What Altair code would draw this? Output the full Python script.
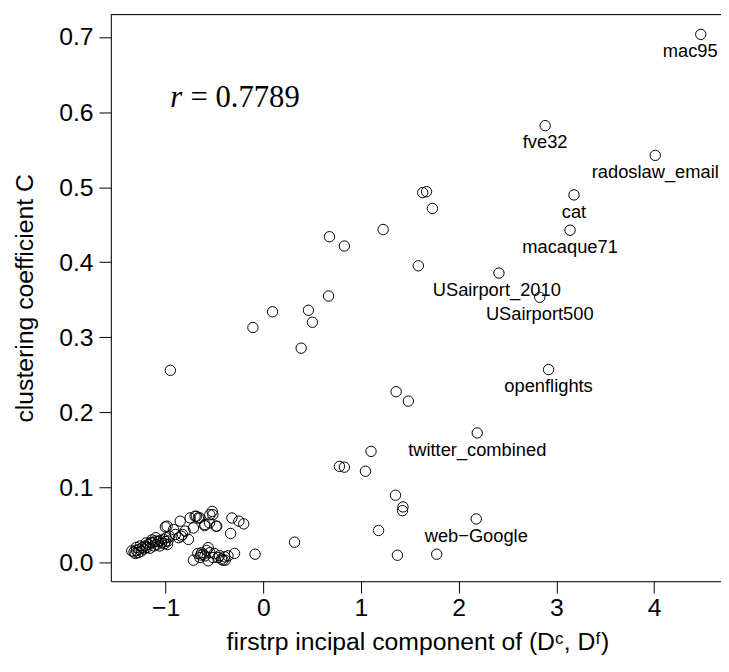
import altair as alt
import pandas as pd

# labelled networks
lab_names = ["mac95", "fve32", "radoslaw_email", "cat", "macaque71",
             "USairport_2010", "USairport500", "openflights", "twitter_combined", "web\u2212Google"]
lab_x = [4.478, 2.885, 4.012, 3.18, 3.14, 2.412, 2.83, 2.92, 2.19, 2.18]
lab_y = [0.7036, 0.582, 0.5424, 0.4897, 0.4427, 0.3856, 0.3533, 0.257, 0.1726, 0.058]
lab_text_x = [4.37, 2.885, 4.012, 3.18, 3.14, 2.39, 2.83, 2.92, 2.19, 2.18]

# other networks
mid_x = [1.632, 1.671, 1.731, 1.227, 0.678, 0.83, 1.587, 0.668, 0.462, 0.503, 0.388,
         -0.106, 0.095, -0.951, 1.36, 1.485, 1.103, 0.78, 0.83, 1.046, 1.353, 1.43,
         1.425, 1.18, 1.373, 1.775, 0.32, -0.084]
mid_y = [0.4928, 0.494, 0.4717, 0.4436, 0.434, 0.4216, 0.3953, 0.355, 0.336, 0.320, 0.2855,
         0.313, 0.334, 0.256, 0.2275, 0.215, 0.148, 0.128, 0.127, 0.1216, 0.0896, 0.074,
         0.069, 0.0426, 0.0096, 0.011, 0.027, 0.011]

low_x = [-0.715, -0.648, -0.631, -0.614, -0.597, -0.564, -0.547, -0.513, -0.564, -0.462,
         -0.428, -0.412, -0.395, -0.361, -0.294, -0.64, -0.39, -0.67, -0.58, -0.5, -0.45]
low_y = [0.003, 0.0066, 0.013, 0.011, 0.0088, 0.0198, 0.013, 0.0066, 0.0022, 0.0066,
         0.0044, 0.003, 0.0075, 0.0088, 0.012, 0.01, 0.003, 0.012, 0.016, 0.012, 0.009]

up_x = [-1.346, -1.323, -1.299, -1.272, -1.238, -1.204, -1.177, -1.154, -1.13, -1.103,
        -1.076, -1.053, -1.019, -0.995, -0.975, -1.002, -0.985, -0.867, -0.84, -0.827,
        -0.8, -0.766, -0.85, -0.749, -0.698, -0.665, -0.715, -0.597, -0.547, -0.523,
        -0.476, -0.334, -0.321, -0.25, -0.2, -0.918, -0.9, -0.55, -0.6, -0.483, -0.516,
        -0.685, -0.651,
        -1.31, -1.28, -1.25, -1.22, -1.19, -1.16, -1.12, -1.09, -1.06, -1.04, -1.01,
        -0.98, -1.2, -1.14, -1.1, -1.3, -1.26, -0.96, -1.0]
up_y = [0.0154, 0.014, 0.016, 0.0175, 0.0198, 0.022, 0.024, 0.0264, 0.0264, 0.0286,
        0.0277, 0.0294, 0.0307, 0.033, 0.0286, 0.0474, 0.0483, 0.033, 0.035, 0.0373,
        0.0418, 0.0307, 0.055, 0.0593, 0.0615, 0.0593, 0.046, 0.0505, 0.0636, 0.068,
        0.0483, 0.0386, 0.0593, 0.055, 0.0514, 0.0439, 0.0373, 0.0527, 0.049, 0.0483, 0.0636,
        0.0615, 0.0593,
        0.012, 0.013, 0.015, 0.018, 0.02, 0.019, 0.022, 0.024, 0.022, 0.026, 0.025,
        0.024, 0.026, 0.03, 0.033, 0.02, 0.022, 0.035, 0.028]

# annotation "r = 0.7789": left end of "r", right end of the number, height
r_left_x = [-0.953]
r_right_x = [0.373]
r_y = [0.619]

x_ticks = [-1, 0, 1, 2, 3, 4]
y_ticks = [0.0, 0.1, 0.2, 0.3, 0.4, 0.5, 0.6, 0.7]

pts = pd.DataFrame({
    "x": lab_x + mid_x + low_x + up_x,
    "y": lab_y + mid_y + low_y + up_y,
})
labs = pd.DataFrame({"x": lab_text_x, "y": lab_y, "name": lab_names})
rdf = pd.DataFrame({"xl": r_left_x, "xr": r_right_x, "y": r_y})

FONT = "Liberation Sans"
W, H = 617, 573

xscale = alt.Scale(domain=[-1.56, -1.56 + W / 98.8], nice=False, zero=False)
yscale = alt.Scale(domain=[-0.025, 0.730], nice=False, zero=False)

xaxis = alt.Axis(values=x_ticks, format="d", title="firstrp incipal component of (D\u1d9c, D\u1da0)",
                 grid=False, domain=True, domainColor="black", domainWidth=1,
                 tickSize=12, tickColor="black", tickWidth=1,
                 labelFont=FONT, labelFontSize=25, labelColor="black", labelPadding=3,
                 titleFont=FONT, titleFontSize=25, titleFontWeight="normal", titleColor="black",
                 titleX=(-1.56 + 4.725) / 2 * 0 + 310, titleY=61, titleBaseline="middle",
                 titleAlign="center")
yaxis = alt.Axis(values=y_ticks, format=".1f", title="clustering coefficient C",
                 grid=False, domain=True, domainColor="black", domainWidth=1,
                 tickSize=12, tickColor="black", tickWidth=1,
                 labelFont=FONT, labelFontSize=25, labelColor="black", labelPadding=6,
                 titleFont=FONT, titleFontSize=25, titleFontWeight="normal", titleColor="black",
                 titleX=-87, titleY=H / 2, titleAngle=270, titleAlign="center",
                 titleBaseline="middle")

points = alt.Chart(pts).mark_point(shape="circle", filled=False, color="black",
                                   strokeWidth=1, size=110, opacity=1).encode(
    x=alt.X("x:Q", scale=xscale, axis=xaxis),
    y=alt.Y("y:Q", scale=yscale, axis=yaxis),
)

labels = alt.Chart(labs).mark_text(font=FONT, fontSize=18.5, color="black", dy=17,
                                   align="center", baseline="middle").encode(
    x=alt.X("x:Q", scale=xscale),
    y=alt.Y("y:Q", scale=yscale),
    text="name:N",
)

r_sym = alt.Chart(rdf).mark_text(font="Liberation Serif", fontSize=31, fontStyle="italic",
                                 color="black", align="left", baseline="middle").encode(
    x=alt.X("xl:Q", scale=xscale),
    y=alt.Y("y:Q", scale=yscale),
    text=alt.value("r"),
)
r_val = alt.Chart(rdf).mark_text(font="Liberation Serif", fontSize=31,
                                 color="black", align="right", baseline="middle").encode(
    x=alt.X("xr:Q", scale=xscale),
    y=alt.Y("y:Q", scale=yscale),
    text=alt.value("= 0.7789"),
)

top_line = alt.Chart(rdf).mark_rule(color="black", strokeWidth=1).encode(
    y=alt.value(0), x=alt.value(0), x2=alt.value(W),
)

chart = alt.layer(points, labels, r_sym, r_val, top_line).properties(
    width=W, height=H,
    autosize="none",
    padding={"left": 104, "top": 3, "right": 0, "bottom": 74},
).configure_view(stroke=None).configure(background="white")

chart.save("out.html", embed_options={"renderer": "svg", "actions": False})
